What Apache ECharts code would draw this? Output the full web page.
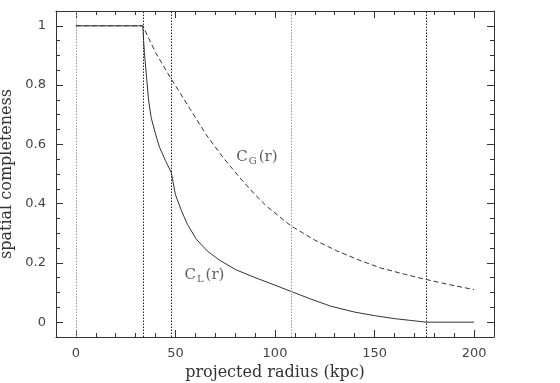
<!DOCTYPE html>
<html>
<head>
<meta charset="utf-8">
<script src="https://cdn.jsdelivr.net/npm/echarts@6/dist/echarts.min.js"></script>
<style>html,body{margin:0;padding:0;background:#fff}#c{width:560px;height:383px}</style>
</head>
<body>
<div id="c"></div>
<script>
// Data
var radiusCL = [0, 33.6, 34, 34.4, 35.3, 36.5, 37.8, 40, 42, 45, 47.9, 50, 52.9, 56, 60.5, 66, 72, 80, 89, 98, 108, 118, 128, 140, 150, 160, 168, 176, 200];
var valuesCL = [1, 1, 0.95, 0.91, 0.84, 0.75, 0.69, 0.635, 0.59, 0.545, 0.505, 0.43, 0.378, 0.33, 0.28, 0.24, 0.21, 0.178, 0.153, 0.13, 0.104, 0.078, 0.054, 0.034, 0.022, 0.012, 0.006, 0, 0];
var radiusCG = [0, 33.6, 40, 47.9, 52, 58, 65.5, 74, 82, 90, 96, 108, 120, 131, 142, 153, 165, 176, 188, 200];
var valuesCG = [1, 1, 0.91, 0.82, 0.777, 0.712, 0.632, 0.555, 0.49, 0.43, 0.39, 0.325, 0.277, 0.241, 0.21, 0.183, 0.162, 0.144, 0.126, 0.11];
var boundaryRadii = [0, 33.6, 47.9, 108, 176];
var boundaryColors = ['#9a9a9a', '#222', '#222', '#9a9a9a', '#222'];
var xMajorTicks = [0, 50, 100, 150, 200];
var xMinorTicks = [10, 20, 30, 40, 60, 70, 80, 90, 110, 120, 130, 140, 160, 170, 180, 190];
var yMajorTicks = [0, 0.2, 0.4, 0.6, 0.8, 1];
var yMinorTicks = [0.05, 0.1, 0.15, 0.25, 0.3, 0.35, 0.45, 0.5, 0.55, 0.65, 0.7, 0.75, 0.85, 0.9, 0.95];
var labelCG = {x: 80.5, y: 0.557, sub: 'G'};
var labelCL = {x: 54.5, y: 0.159, sub: 'L'};

function pairs(xs, ys) { return xs.map(function (x, i) { return [x, ys[i]]; }); }

var ink = '#333';
var tickFont = {fontFamily: 'DejaVu Sans', fontSize: 13, color: '#444'};

function xAx(pos, ticks, len, showLabel, showLine) {
  return {
    type: 'value', position: pos, min: -10, max: 210,
    axisLine: {show: showLine, onZero: false, lineStyle: {color: ink, width: 1}},
    axisTick: {show: true, inside: true, length: len, customValues: ticks, lineStyle: {color: ink, width: 1}},
    axisLabel: showLabel ? Object.assign({show: true, customValues: ticks, margin: 10}, tickFont) : {show: false},
    splitLine: {show: false}
  };
}
function yAx(pos, ticks, len, showLabel, showLine) {
  return {
    type: 'value', position: pos, min: -0.05, max: 1.05,
    axisLine: {show: showLine, onZero: false, lineStyle: {color: ink, width: 1}},
    axisTick: {show: true, inside: true, length: len, customValues: ticks, lineStyle: {color: ink, width: 1}},
    axisLabel: showLabel ? Object.assign({show: true, customValues: ticks, margin: 10, formatter: function (v) { return String(+v.toFixed(2)); }}, tickFont) : {show: false},
    splitLine: {show: false}
  };
}

var xAxes = [
  xAx('bottom', xMajorTicks, 7, true, true),
  xAx('bottom', xMinorTicks, 4, false, false),
  xAx('top', xMajorTicks, 7, false, true),
  xAx('top', xMinorTicks, 4, false, false)
];
xAxes[0].name = 'projected radius (kpc)';
xAxes[0].nameLocation = 'middle';
xAxes[0].nameGap = 22;
xAxes[0].nameTextStyle = {fontFamily: 'DejaVu Serif', fontSize: 16, color: '#333'};

var yAxes = [
  yAx('left', yMajorTicks, 7, true, true),
  yAx('left', yMinorTicks, 4, false, false),
  yAx('right', yMajorTicks, 7, false, true),
  yAx('right', yMinorTicks, 4, false, false)
];
yAxes[0].name = 'spatial completeness';
yAxes[0].nameLocation = 'middle';
yAxes[0].nameGap = 38;
yAxes[0].nameTextStyle = {fontFamily: 'DejaVu Serif', fontSize: 16, color: '#333'};

function curveLabel(lab) {
  return {
    type: 'scatter', symbolSize: 0, silent: true,
    data: [[lab.x, lab.y]],
    label: {
      show: true, position: 'right', distance: 0,
      formatter: '{c|C}{s|' + lab.sub + '}{c|(r)}',
      rich: {
        c: {fontFamily: 'DejaVu Serif', fontSize: 15, color: '#333'},
        s: {fontFamily: 'DejaVu Serif', fontSize: 10, color: '#333', verticalAlign: 'bottom', padding: [8, 2, 0, 1]}
      }
    }
  };
}

var chart = echarts.init(document.getElementById('c'), null, {renderer: 'canvas'});
chart.setOption({
  animation: false,
  backgroundColor: '#fff',
  grid: {left: 56, right: 66, top: 11, bottom: 46, containLabel: false, outerBoundsMode: 'none'},
  xAxis: xAxes,
  yAxis: yAxes,
  series: [
    {
      type: 'line', name: 'C_G', data: pairs(radiusCG, valuesCG), showSymbol: false,
      lineStyle: {color: '#333', width: 1, type: [5, 3]},
      markLine: {
        silent: true, symbol: 'none', label: {show: false},
        data: boundaryRadii.map(function (r, i) {
          return {xAxis: r, lineStyle: {color: boundaryColors[i], width: 1, type: [1.5, 1.5]}};
        })
      }
    },
    {
      type: 'line', name: 'C_L', data: pairs(radiusCL, valuesCL), showSymbol: false,
      lineStyle: {color: '#333', width: 1, type: 'solid'}
    },
    curveLabel(labelCG),
    curveLabel(labelCL)
  ]
});
</script>
</body>
</html>
